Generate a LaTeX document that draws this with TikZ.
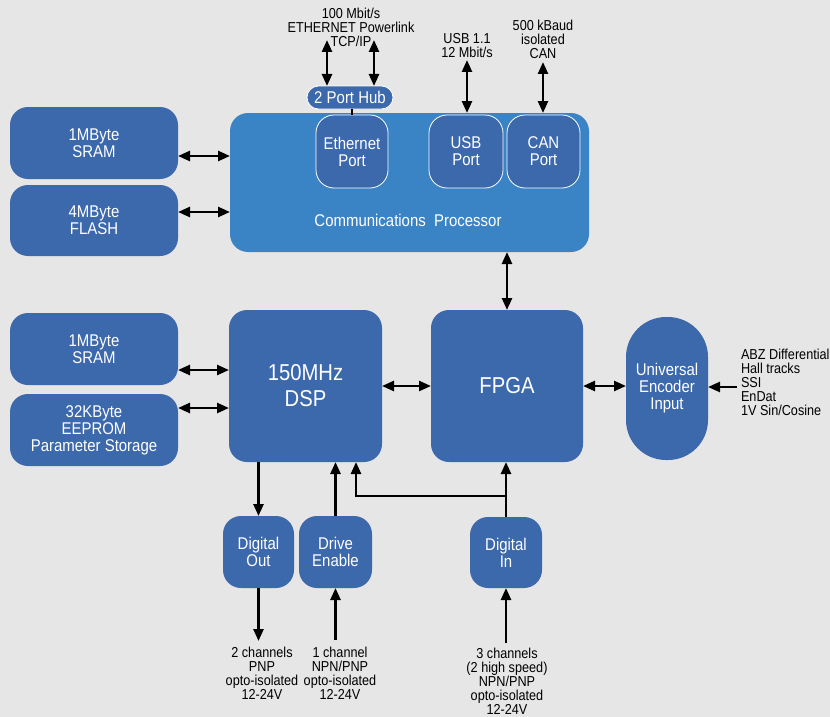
\documentclass[tikz,border=0pt]{standalone}
\usepackage{fontspec}
\setmainfont{Liberation Sans}[FakeStretch=0.88]
\usetikzlibrary{arrows.meta}
\definecolor{bggrey}{RGB}{230,230,230}
\definecolor{blkblue}{RGB}{60,104,172}
\definecolor{procblue}{RGB}{58,132,198}

\begin{document}
\begin{tikzpicture}[x=1pt,y=-1pt,
  every node/.style={inner sep=0pt,outer sep=0pt},
  blk/.style={rectangle,rounded corners=18pt,fill=blkblue,text=white,align=center,font=\fontsize{17}{17}\selectfont},
  port/.style={blk,draw=white,line width=0.8pt},
  txt/.style={align=center,font=\fontsize{14.4}{14}\selectfont},
  link/.style={line width=2.5pt},
  dbl/.style={link,{Triangle[length=12pt,width=10pt]}-{Triangle[length=12pt,width=10pt]}},
  sgl/.style={link,-{Triangle[length=12pt,width=10pt]}}]
\useasboundingbox (0,0) rectangle (830,717);
\fill[bggrey] (0,0) rectangle (830,717);
\node[blk,minimum width=168pt,minimum height=72pt] (sram1) at (94,143) {1MByte\\SRAM};
\node[blk,minimum width=168pt,minimum height=71pt] (flash) at (94,220.5) {4MByte\\FLASH};
\node[blk,fill=procblue,minimum width=359pt,minimum height=139pt] (comm) at (409.5,182.5) {};
\node[text=white,font=\fontsize{17}{17}\selectfont] (commlbl) at (408,220) {Communications\ \ Processor};
\node[port,minimum width=72pt,minimum height=73pt] (eth) at (352,151.5) {Ethernet\\Port};
\node[port,minimum width=74pt,minimum height=73pt] (usb) at (466,151.5) {USB\\Port};
\node[port,minimum width=73pt,minimum height=73pt] (can) at (543.5,151.5) {CAN\\Port};
\node[port,rounded corners=11.5pt,minimum width=86pt,minimum height=23pt] (hub) at (350,97.5) {2 Port Hub};
\node[blk,minimum width=168pt,minimum height=72pt] (sram2) at (94,349) {1MByte\\SRAM};
\node[blk,minimum width=168pt,minimum height=72pt] (eeprom) at (94,430) {32KByte\\EEPROM\\Parameter Storage};
\node[blk,minimum width=153pt,minimum height=152pt,font=\fontsize{23}{26}\selectfont] (dsp) at (305.5,386) {150MHz\\DSP};
\node[blk,minimum width=152pt,minimum height=152pt,font=\fontsize{23}{26}\selectfont] (fpga) at (507,386) {FPGA};
\node[blk,rounded corners=40pt,minimum width=82pt,minimum height=143pt] (enc) at (667,388.5) {Universal\\Encoder\\Input};
\node[blk,minimum width=71pt,minimum height=72pt] (dout) at (258.5,552) {Digital\\Out};
\node[blk,minimum width=73pt,minimum height=72pt] (drv) at (335.5,552) {Drive\\Enable};
\node[blk,minimum width=72pt,minimum height=71pt] (din) at (506,552.5) {Digital\\In};
\node[txt] (ethlbl) at (351,27) {100 Mbit/s\\ETHERNET Powerlink\\TCP/IP};
\node[txt] (usblbl) at (467,46) {USB 1.1\\12 Mbit/s};
\node[txt] (canlbl) at (543,39) {500 kBaud\\isolated\\CAN};
\node[txt,align=left,anchor=west] (enclbl) at (741,382) {ABZ Differential\\Hall tracks\\SSI\\EnDat\\1V Sin/Cosine};
\node[txt,anchor=north] (doutlbl) at (262,647) {2 channels\\PNP\\opto-isolated\\12-24V};
\node[txt,anchor=north] (drvlbl) at (340,647) {1 channel\\NPN/PNP\\opto-isolated\\12-24V};
\node[txt,anchor=north] (dinlbl) at (507,648) {3 channels\\(2 high speed)\\NPN/PNP\\opto-isolated\\12-24V};
\coordinate (ethin1) at (327,40);
\coordinate (ethin2) at (374,40);
\coordinate (usbin) at (467,60);
\coordinate (canin) at (543,62);
\coordinate (encio) at (737,387);
\coordinate (doutio) at (258.5,641);
\coordinate (drvio) at (335.5,640);
\coordinate (dinio) at (506,643);
\coordinate (dinbr) at (356,496);
\draw[dbl] (ethin1) -- (ethin1 |- hub.north);
\draw[dbl] (ethin2) -- (ethin2 |- hub.north);
\draw[line width=2pt] (hub.south -| eth.north) -- (eth.north);
\draw[dbl] (usbin) -- (usbin |- comm.north);
\draw[dbl] (canin) -- (canin |- comm.north);
\draw[dbl] ([yshift=-13pt]sram1.east) -- ([yshift=-13pt]sram1.east -| comm.west);
\draw[dbl] ([yshift=8.5pt]flash.east) -- ([yshift=8.5pt]flash.east -| comm.west);
\draw[dbl] ([yshift=-21pt]sram2.east) -- ([yshift=-21pt]sram2.east -| dsp.west);
\draw[dbl] ([yshift=22pt]eeprom.east) -- ([yshift=22pt]eeprom.east -| dsp.west);
\draw[dbl] (fpga.north) -- (fpga.north |- comm.south);
\draw[dbl] (dsp.east) -- (fpga.west);
\draw[dbl] (fpga.east) -- (fpga.east -| enc.west);
\draw[sgl] (encio) -- (encio -| enc.east);
\draw[sgl] (dout.north |- dsp.south) -- (dout.north);
\draw[sgl] (drv.north) -- (drv.north |- dsp.south);
\draw[sgl] (din.north) -- (din.north |- fpga.south);
\draw[sgl] (dinbr -| din.north) -- (dinbr) -- (dinbr |- dsp.south);
\draw[sgl] (dout.south) -- (doutio);
\draw[sgl] (drvio) -- (drv.south);
\draw[sgl] (dinio) -- (din.south);
\end{tikzpicture}
\end{document}
